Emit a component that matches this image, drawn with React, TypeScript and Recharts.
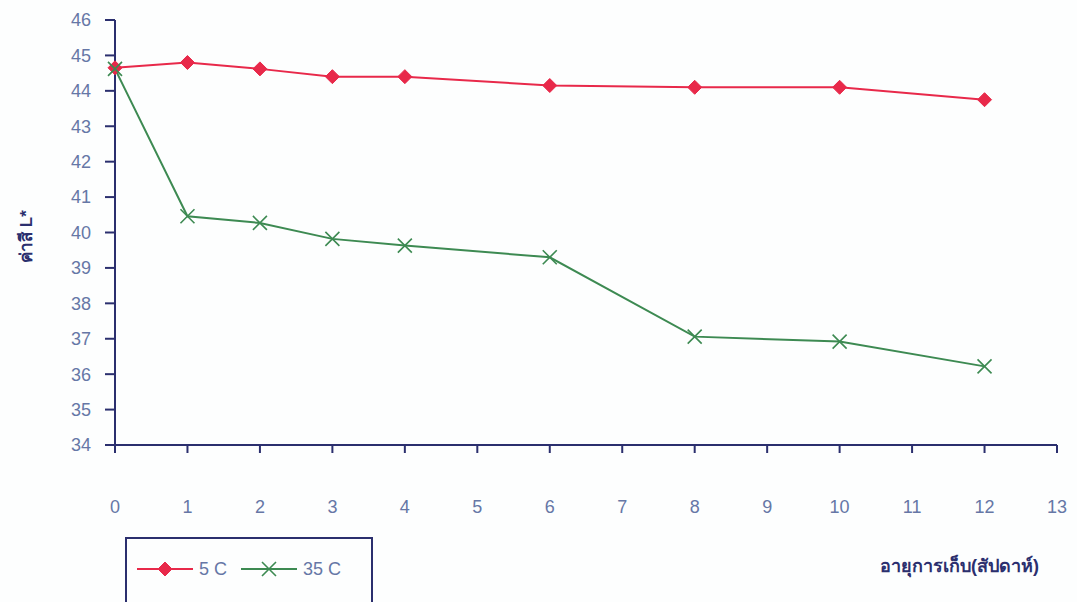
import { Label, Line, LineChart, XAxis, YAxis } from 'recharts'

const weeks = [0, 1, 2, 3, 4, 6, 8, 10, 12]
const cold5 = [44.65, 44.8, 44.62, 44.4, 44.4, 44.15, 44.1, 44.1, 43.75]
const hot35 = [44.62, 40.46, 40.27, 39.82, 39.63, 39.3, 37.06, 36.92, 36.22]
const xTicks = [0, 1, 2, 3, 4, 5, 6, 7, 8, 9, 10, 11, 12, 13]
const yTicks = [34, 35, 36, 37, 38, 39, 40, 41, 42, 43, 44, 45, 46]

const data = weeks.map((w, i) => ({ week: w, cold: cold5[i], hot: hot35[i] }))

const RED = '#e8294a'
const GREEN = '#3d8a52'
const NAVY = '#2b2f6e'
const TICK = '#6677a6'
const FONT = '"Liberation Sans", Arial, sans-serif'

interface DotProps {
  cx?: number
  cy?: number
}

function Diamond({ cx, cy }: DotProps) {
  if (cx == null || cy == null) return null
  const r = 7
  return (
    <path
      d={`M${cx},${cy - r}L${cx + r},${cy}L${cx},${cy + r}L${cx - r},${cy}Z`}
      fill={RED}
      stroke={RED}
    />
  )
}

function Cross({ cx, cy }: DotProps) {
  if (cx == null || cy == null) return null
  const r = 7
  return (
    <path
      d={`M${cx - r},${cy - r}L${cx + r},${cy + r}M${cx - r},${cy + r}L${cx + r},${cy - r}`}
      stroke={GREEN}
      strokeWidth={1.6}
      fill="none"
    />
  )
}

function LegendBox() {
  return (
    <div
      style={{
        position: 'absolute',
        left: 125,
        top: 537,
        border: `2px solid ${NAVY}`,
        width: 248,
        height: 72,
        boxSizing: 'border-box',
        display: 'flex',
        alignItems: 'center',
        paddingLeft: 10,
        paddingBottom: 8,
        fontFamily: FONT,
        fontSize: 18,
        color: TICK,
      }}
    >
      <svg width={56} height={16}>
        <line x1={0} y1={8} x2={56} y2={8} stroke={RED} strokeWidth={2} />
        <Diamond cx={28} cy={8} />
      </svg>
      <span style={{ marginLeft: 6, marginRight: 14 }}>5 C</span>
      <svg width={56} height={16}>
        <line x1={0} y1={8} x2={56} y2={8} stroke={GREEN} strokeWidth={2} />
        <Cross cx={28} cy={8} />
      </svg>
      <span style={{ marginLeft: 6 }}>35 C</span>
    </div>
  )
}

export default function App() {
  return (
    <div style={{ position: 'absolute', left: 0, top: 0, width: 1077, height: 602, background: '#fdfefe', overflow: 'hidden' }}>
      <LineChart
        width={1077}
        height={602}
        data={data}
        margin={{ top: 20, right: 20, left: 0, bottom: 0 }}
      >
        <XAxis
          dataKey="week"
          type="number"
          domain={[0, 13]}
          ticks={xTicks}
          interval={0}
          height={157}
          tickSize={8}
          tickMargin={47}
          stroke={NAVY}
          strokeWidth={2}
          tick={{ fill: TICK, fontSize: 18, fontFamily: FONT }}
        >
          <Label
            value="อายุการเก็บ(สัปดาห์)"
            position="insideBottomRight"
            offset={18}
            dy={-12}
            fill={NAVY}
            fontSize={18}
            fontWeight="bold"
            fontFamily={FONT}
          />
        </XAxis>
        <YAxis
          type="number"
          domain={[34, 46]}
          ticks={yTicks}
          interval={0}
          width={115}
          tickSize={10}
          tickMargin={14}
          stroke={NAVY}
          strokeWidth={2}
          tick={{ fill: TICK, fontSize: 18, fontFamily: FONT }}
        >
          <Label
            value="ค่าสี L*"
            angle={-90}
            position="insideLeft"
            offset={26}
            dy={4}
            fill={NAVY}
            fontSize={17}
            fontWeight="bold"
            fontFamily={FONT}
            style={{ textAnchor: 'middle' }}
          />
        </YAxis>
        <Line
          dataKey="cold"
          name="5 C"
          stroke={RED}
          strokeWidth={2}
          dot={<Diamond />}
          activeDot={false}
          isAnimationActive={false}
        />
        <Line
          dataKey="hot"
          name="35 C"
          stroke={GREEN}
          strokeWidth={2}
          dot={<Cross />}
          activeDot={false}
          isAnimationActive={false}
        />
      </LineChart>
      <LegendBox />
    </div>
  )
}
